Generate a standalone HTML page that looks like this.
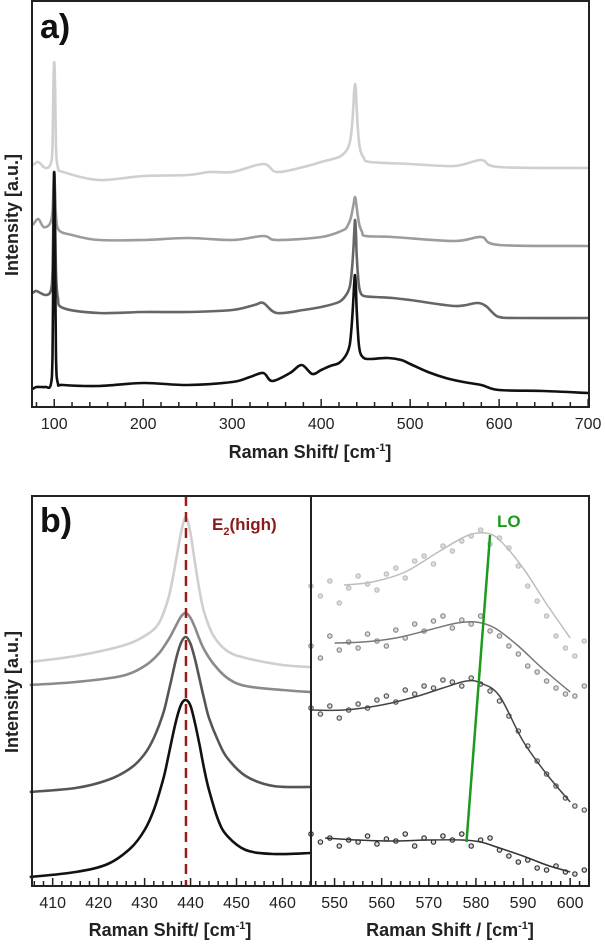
<!DOCTYPE html>
<html><head><meta charset="utf-8">
<style>
html,body{margin:0;padding:0;background:#fff;}
svg{display:block;font-family:"Liberation Sans",sans-serif;}
</style></head>
<body>
<svg id="fig" width="605" height="944" viewBox="0 0 605 944" xmlns="http://www.w3.org/2000/svg">
<text x="40" y="38" font-size="34" font-weight="bold" fill="#111">a)</text>
<text x="40" y="532" font-size="34" font-weight="bold" fill="#111">b)</text>
<text transform="translate(18,215) rotate(-90)" text-anchor="middle" font-size="18" font-weight="bold" fill="#222">Intensity [a.u.]</text>
<text transform="translate(18,692) rotate(-90)" text-anchor="middle" font-size="18" font-weight="bold" fill="#222">Intensity [a.u.]</text>
<text x="310" y="458" text-anchor="middle" font-size="18" font-weight="bold" fill="#222">Raman Shift/  [cm<tspan dy="-7" font-size="11">-1</tspan><tspan dy="7">]</tspan></text>
<text x="170" y="936" text-anchor="middle" font-size="18" font-weight="bold" fill="#222">Raman Shift/  [cm<tspan dy="-7" font-size="11">-1</tspan><tspan dy="7">]</tspan></text>
<text x="450" y="936" text-anchor="middle" font-size="18" font-weight="bold" fill="#222">Raman Shift / [cm<tspan dy="-7" font-size="11">-1</tspan><tspan dy="7">]</tspan></text>
<text x="212" y="530" font-size="17" font-weight="bold" fill="#8b1a1a">E<tspan dy="5" font-size="11">2</tspan><tspan dy="-5">(high)</tspan></text>
<text x="497" y="527" font-size="17" font-weight="bold" fill="#1e9a1e">LO</text>
</svg>
<script>
// Panel a data
const aBlackX=[76,80,90,96,98,99,100,101,102,104,110,150,200,250,300,320,335,345,365,378,390,400,410,420,428,432,434,436,437,438,439,440,442,444,448,455,475,490,500,520,540,560,580,600,650,700];
const aBlackY=[18,20,20,22,50,150,235,150,50,24,22,21,24,22,25,30,34,26,34,42,33,37,41,44,52,62,78,105,122,132,120,95,66,54,49,48,49,47,43,35,29,25,22,17,16,14];
const aDarkX=[76,80,90,96,98,99,100,101,102,104,110,150,200,250,300,325,335,350,380,400,420,428,432,434,436,437,438,439,440,442,444,448,460,480,500,550,575,585,592,600,620,700];
const aDarkY=[114,116,112,116,135,190,235,190,135,110,99,94,95,95,97,102,104,94,97,100,105,112,120,132,155,172,187,175,150,125,115,111,110,109,107,101,104,101,95,90,89,89];
const aMedX=[76,82,88,95,98,99,100,101,102,105,120,150,200,250,300,335,350,400,425,430,433,435,437,438,439,441,443,446,450,480,550,580,600,700];
const aMedY=[182,188,180,183,195,220,235,215,192,177,172,167,167,169,167,171,167,170,177,182,188,196,206,210,206,192,182,175,171,170,166,170,162,161];
const aLightX=[76,82,90,96,98,99,100,101,102,104,110,150,200,250,275,300,335,350,380,400,420,428,432,434,436,437,438,439,440,442,444,448,455,500,550,580,600,700];
const aLightY=[242,245,239,243,260,320,345,320,260,240,235,227,231,232,235,235,243,235,240,245,250,256,264,275,298,315,323,316,296,270,257,249,245,243,241,247,240,239];
const aTicks=[100,200,300,400,500,600,700];
// Panel b left
const bLightX=[405,415,425,430,433,435,436,437,438,439,440,441,442,443,445,448,452,460,466];
const bLightY=[224,230,240,250,262,285,305,330,355,369,352,322,294,273,250,235,228,221,219];
const bGrayX=[405,415,425,430,433,435,436,437,438,439,440,441,442,443,445,448,452,460,466];
const bGrayY=[201,204,210,220,232,245,253,262,270,273,268,258,246,236,222,208,200,196,194];
const bDarkX=[405,415,422,427,430,432,434,435,436,437,438,439,440,441,442,443,444,446,448,452,458,466];
const bDarkY=[94,98,106,118,132,148,172,190,210,230,244,249,242,226,206,186,168,145,128,110,100,99];
const bBlackX=[405,415,422,427,430,432,434,435,436,437,438,439,440,441,442,443,444,446,448,452,458,466];
const bBlackY=[9,14,22,38,56,76,106,126,148,168,182,186,180,162,140,116,96,66,50,36,32,33];
const bLeftTicks=[410,420,430,440,450,460];
const e2Position=439;
// Panel b right
const fitLightX=[552,558,565,572,578,582,585,590,595,600];
const fitLightY=[301,304,314,334,350,353,346,318,282,248];
const fitGrayX=[550,556,563,570,576,580,584,589,594,600];
const fitGrayY=[243,244,248,256,263,264,258,240,218,194];
const fitDarkX=[545,552,560,567,573,578,581,585,590,595,600];
const fitDarkY=[176,176,181,189,198,205,203,190,145,112,84];
const fitBlackX=[548,555,562,570,577,581,585,590,595,600];
const fitBlackY=[48,46,45,46,46,44,38,30,21,14];
const dotX=[545,547,549,551,553,555,557,559,561,563,565,567,569,571,573,575,577,579,581,583,585,587,589,591,593,595,597,599,601,603];
const dotLightY=[300,290,305,283,298,310,302,296,312,318,308,325,330,322,340,335,345,350,356,342,348,338,320,300,285,270,250,238,230,245];
const dotGrayY=[240,228,250,236,244,238,252,245,240,256,248,262,255,265,270,258,266,262,270,255,250,240,232,220,214,205,198,192,190,200];
const dotDarkY=[178,172,180,168,176,182,178,186,190,184,196,192,200,198,206,204,200,208,202,195,185,170,155,140,125,112,100,88,80,76];
const dotBlackY=[52,44,48,40,46,44,50,42,47,45,52,40,48,44,50,46,52,40,46,48,36,30,24,26,18,16,20,14,12,16];
const bRightTicks=[550,560,570,580,590,600];
const loBottom=[578,44];
const loTop=[583,351];

const NS="http://www.w3.org/2000/svg";
const svg=document.getElementById('fig');
function mk(tag,attrs){const e=document.createElementNS(NS,tag);for(const k in attrs)e.setAttribute(k,attrs[k]);svg.appendChild(e);return e;}
function lin(d0,d1,r0,r1){return v=>r0+(v-d0)/(d1-d0)*(r1-r0);}

const ax=lin(75,701,32,589), ay=lin(0,406,407,1);
const blx=lin(405.5,466.2,32,311), by=lin(0,390,886,496);
const brx=lin(545,604,311,589);

function smoothPath(P){
  let d='M'+P[0][0].toFixed(1)+','+P[0][1].toFixed(1);
  for(let i=0;i<P.length-1;i++){
    const p0=P[i>0?i-1:0],p1=P[i],p2=P[i+1],p3=P[i+2<P.length?i+2:i+1];
    const c1x=p1[0]+(p2[0]-p0[0])/6,c1y=p1[1]+(p2[1]-p0[1])/6;
    const c2x=p2[0]-(p3[0]-p1[0])/6,c2y=p2[1]-(p3[1]-p1[1])/6;
    d+=' C'+c1x.toFixed(1)+','+c1y.toFixed(1)+' '+c2x.toFixed(1)+','+c2y.toFixed(1)+' '+p2[0].toFixed(1)+','+p2[1].toFixed(1);
  }
  return d;
}
function line(xs,ys,fx,fy,color,w,name){
  const P=xs.map((x,i)=>[fx(x),fy(ys[i])]);
  const p=mk('path',{d:smoothPath(P),fill:'none',stroke:color,'stroke-width':w,'stroke-linejoin':'round'});
  
  
}
function dots(xs,ys,fx,fy,color,name){
  const g=mk('g',{});
  
  
  xs.forEach((x,i)=>{const c=document.createElementNS(NS,'circle');c.setAttribute('cx',fx(x));c.setAttribute('cy',fy(ys[i]));c.setAttribute('r',2.2);c.setAttribute('fill','#ddd');c.setAttribute('stroke',color);c.setAttribute('stroke-width',1.2);
    
    
    g.appendChild(c);});
}
function ticks(fx,d0,d1,step,major,yb,name,labels){
  const g=mk('g',{});
  
  
  for(let v=Math.ceil(d0/step)*step;v<=d1;v+=step){
    const isMaj=Math.abs(v/major-Math.round(v/major))<1e-6;
    const l=document.createElementNS(NS,'line');
    l.setAttribute('x1',fx(v));l.setAttribute('x2',fx(v));l.setAttribute('y1',yb);l.setAttribute('y2',yb-(isMaj?8:5));
    l.setAttribute('stroke','#222');l.setAttribute('stroke-width',1.5);g.appendChild(l);
  }
  labels.forEach(v=>{const t=document.createElementNS(NS,'text');t.setAttribute('x',fx(v));t.setAttribute('y',yb+22);t.setAttribute('text-anchor','middle');t.setAttribute('font-size','16');t.setAttribute('fill','#222');t.textContent=v;
    
    
    g.appendChild(t);});
}

line(aLightX,aLightY,ax,ay,'#cfcfcf',2.6,'spectrum-a-light');
line(aMedX,aMedY,ax,ay,'#9c9c9c',2.6,'spectrum-a-medium');
line(aDarkX,aDarkY,ax,ay,'#666',2.6,'spectrum-a-dark');
line(aBlackX,aBlackY,ax,ay,'#111',2.6,'spectrum-a-black');
ticks(ax,75,701,20,100,407,'x-axis-a',aTicks);
const fa=mk('rect',{x:32,y:1,width:557,height:406,fill:'none',stroke:'#222','stroke-width':2});



line(bLightX,bLightY,blx,by,'#cfcfcf',2.6,'spectrum-b-light');
line(bGrayX,bGrayY,blx,by,'#8a8a8a',2.6,'spectrum-b-gray');
line(bDarkX,bDarkY,blx,by,'#555',2.6,'spectrum-b-dark');
line(bBlackX,bBlackY,blx,by,'#111',2.6,'spectrum-b-black');
const e2=mk('line',{x1:blx(e2Position),x2:blx(e2Position),y1:496,y2:886,stroke:'#9b1c1c','stroke-width':2.5,'stroke-dasharray':'10,6'});


ticks(blx,405.5,466.2,2,10,886,'x-axis-b-left',bLeftTicks);

dots(dotX,dotLightY,brx,by,'#bdbdbd','dots-light');
dots(dotX,dotGrayY,brx,by,'#8a8a8a','dots-gray');
dots(dotX,dotDarkY,brx,by,'#555','dots-dark');
dots(dotX,dotBlackY,brx,by,'#333','dots-black');
line(fitLightX,fitLightY,brx,by,'#bdbdbd',1.5,'fit-light');
line(fitGrayX,fitGrayY,brx,by,'#777',1.5,'fit-gray');
line(fitDarkX,fitDarkY,brx,by,'#444',1.5,'fit-dark');
line(fitBlackX,fitBlackY,brx,by,'#333',1.5,'fit-black');
const lo=mk('line',{x1:brx(loBottom[0]),y1:by(loBottom[1]),x2:brx(loTop[0]),y2:by(loTop[1]),stroke:'#1e9a1e','stroke-width':2.5});


ticks(brx,545,604,2,10,886,'x-axis-b-right',bRightTicks);

const fb=mk('rect',{x:32,y:496,width:557,height:390,fill:'none',stroke:'#222','stroke-width':2});


const dv=mk('line',{x1:311,x2:311,y1:496,y2:886,stroke:'#222','stroke-width':2});


</script>
</body></html>
